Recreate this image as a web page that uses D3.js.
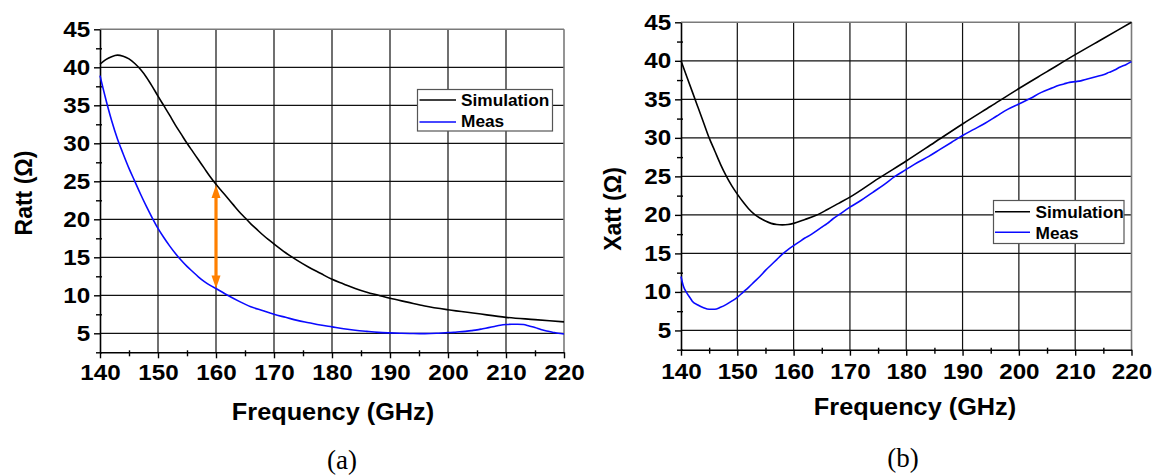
<!DOCTYPE html>
<html>
<head>
<meta charset="utf-8">
<script src="https://cdn.jsdelivr.net/npm/d3@7"></script>
<style>
  html, body { margin: 0; padding: 0; background: #fff; }
  svg { display: block; }
  text { font-family: "Liberation Sans", Arial, sans-serif; font-weight: bold; fill: #000; }
  text.cap { font-family: "Liberation Serif", "Times New Roman", serif; font-weight: normal; }
</style>
</head>
<body>
<svg id="chart" width="1155" height="476"></svg>
<script>
// ---------- data ----------
const xTicks = [140, 150, 160, 170, 180, 190, 200, 210, 220];
const xMinorTicks = [145, 155, 165, 175, 185, 195, 205, 215];
const yTicks = [5, 10, 15, 20, 25, 30, 35, 40, 45];
const yMinorTicks = [2.5, 7.5, 12.5, 17.5, 22.5, 27.5, 32.5, 37.5, 42.5];
const seriesNames = ["Simulation", "Meas"];
const xLabel = "Frequency (GHz)";
const yLabelA = "Ratt (Ω)";
const yLabelB = "Xatt (Ω)";
const captions = ["(a)", "(b)"];

// Panel (a): Ratt
const freqSimA = [140,141,142,143,144,145,146,147,148,149,150,151,152,153,154,155,156,157,158,159,160,161,162,163,164,165,166,167,168,169,170,172,174,176,178,180,182,184,186,188,190,193,196,200,205,210,215,220];
const rattSim  = [40.4,41.0,41.4,41.6,41.45,41.1,40.5,39.7,38.7,37.5,36.2,34.95,33.7,32.4,31.2,30.0,28.9,27.8,26.7,25.6,24.6,23.7,22.8,21.9,21.0,20.2,19.4,18.7,18.0,17.35,16.75,15.6,14.6,13.7,12.9,12.1,11.5,10.9,10.4,10.0,9.6,9.1,8.6,8.1,7.6,7.1,6.8,6.5];
const freqMeasA = [140,141,142,143,144,145,146,147,148,149,150,151,152,153,154,155,156,157,158,159,160,162,164,166,168,170,172,174,176,178,180,182,184,186,188,190,192,194,196,198,200,201,202,203,204,205,206,207,208,209,210,211,212,213,214,215,216,217,218,219,220];
const rattMeas  = [38.9,35.8,33.0,30.6,28.6,26.7,25.0,23.3,21.7,20.2,18.8,17.6,16.5,15.5,14.6,13.8,13.1,12.4,11.8,11.3,10.9,10.0,9.2,8.5,8.0,7.5,7.1,6.7,6.4,6.1,5.85,5.6,5.4,5.25,5.12,5.05,5.0,4.97,4.96,5.0,5.1,5.12,5.2,5.25,5.35,5.45,5.6,5.75,5.9,6.05,6.15,6.2,6.2,6.15,5.95,5.75,5.5,5.3,5.15,5.0,4.9];
// orange double arrow at 160 GHz
const arrowFreq = 160;
const arrowFrom = 24.5;
const arrowTo = 10.9;

// Panel (b): Xatt
const freqSimB = [140,141,142,143,144,145,146,147,148,149,150,151,152,153,154,155,156,157,158,159,160,162,164,166,168,170,175,180,185,190,195,200,205,210,215,220];
const xattSim  = [40.0,38.0,36.0,34.0,32.0,30.0,28.3,26.6,25.1,23.8,22.7,21.7,20.8,20.1,19.6,19.2,18.9,18.75,18.7,18.75,18.9,19.4,19.95,20.7,21.5,22.3,24.7,27.0,29.4,31.8,34.1,36.4,38.6,40.8,42.9,45.0];
const freqMeasB = [140,140.4,141,141.6,142,143,144,145,146,147,148,149,150,151,152,153,154,155,156,157,158,159,160,161,162,163,164,165,166,167,168,170,172,174,176,178,180,182,184,186,188,190,192,194,196,198,200,202,204,206,207,208,209,210,211,212,213,214,215,216,217,218,219,220];
const xattMeas  = [12.0,10.8,9.9,9.25,8.8,8.3,7.95,7.75,7.75,8.0,8.35,8.8,9.3,9.95,10.6,11.3,12.0,12.8,13.5,14.2,14.9,15.5,16.0,16.5,17.0,17.4,17.9,18.4,18.9,19.5,20.0,21.0,21.9,22.9,23.9,25.0,25.9,26.8,27.6,28.5,29.4,30.3,31.1,31.9,32.8,33.7,34.4,35.1,35.9,36.5,36.8,37.0,37.2,37.3,37.4,37.6,37.8,38.0,38.2,38.5,38.8,39.2,39.5,39.9];

// ---------- drawing ----------
const svg = d3.select("#chart");
const SX = 1.1; // horizontal text widening seen in the reference

const panels = [
  { x0: 100, x1: 564, yTop: 29.3, yBot: 352.3, pad: 6,
    sim: [freqSimA, rattSim], meas: [freqMeasA, rattMeas], ylabel: yLabelA,
    ylabX: 24, ylabY: 193, xlabX: 333, xlabY: 420, cap: captions[0], capX: 342, capY: 469,
    legend: { x: 417.5, y: 89.5, w: 135, h: 41.5, l0: 419.5, l1: 456, ySim: 100, yMeas: 122, tx: 461, bSim: 106, bMeas: 127 },
    arrow: true },
  { x0: 681, x1: 1131.5, yTop: 22.3, yBot: 349.7, pad: 8,
    sim: [freqSimB, xattSim], meas: [freqMeasB, xattMeas], ylabel: yLabelB,
    ylabX: 613, ylabY: 209, xlabX: 915, xlabY: 415, cap: captions[1], capX: 903, capY: 467,
    legend: { x: 993.5, y: 200.5, w: 130.5, h: 43, l0: 995, l1: 1030, ySim: 211.7, yMeas: 232.3, tx: 1035.5, bSim: 217.5, bMeas: 238.5 },
    arrow: false }
];

panels.forEach(p => {
  const x = d3.scaleLinear().domain([140, 220]).range([p.x0, p.x1]);
  const y = d3.scaleLinear().domain([2.5, 45]).range([p.yBot, p.yTop]);
  const g = svg.append("g");

  // grid
  g.append("g").selectAll("line").data(xTicks.slice(1, -1)).join("line")
    .attr("x1", d => x(d)).attr("x2", d => x(d)).attr("y1", p.yTop).attr("y2", p.yBot)
    .attr("stroke", "#111").attr("stroke-width", 1.2);
  g.append("g").selectAll("line").data(yTicks.slice(0, -1)).join("line")
    .attr("x1", p.x0).attr("x2", p.x1).attr("y1", d => y(d)).attr("y2", d => y(d))
    .attr("stroke", "#111").attr("stroke-width", 1.2);
  // top / right frame (gray)
  g.append("line").attr("x1", p.x0).attr("x2", p.x1).attr("y1", y(45)).attr("y2", y(45))
    .attr("stroke", "#7a7a7a").attr("stroke-width", 1.6);
  g.append("line").attr("x1", x(220)).attr("x2", x(220)).attr("y1", p.yTop).attr("y2", p.yBot)
    .attr("stroke", "#7a7a7a").attr("stroke-width", 1.6);

  // minor ticks
  g.append("g").attr("transform", `translate(0,${p.yBot})`)
    .call(d3.axisBottom(x).tickValues(xMinorTicks).tickSize(4).tickFormat(""))
    .call(s => s.select(".domain").remove())
    .call(s => s.selectAll("line").attr("stroke-width", 1.4).attr("y1", -2));
  g.append("g").attr("transform", `translate(${p.x0},0)`)
    .call(d3.axisLeft(y).tickValues(yMinorTicks).tickSize(4).tickFormat(""))
    .call(s => s.select(".domain").remove())
    .call(s => s.selectAll("line").attr("stroke-width", 1.4).attr("x1", 2));

  // major axes
  const ax = g.append("g").attr("transform", `translate(0,${p.yBot})`)
    .call(d3.axisBottom(x).tickValues(xTicks).tickSize(6).tickPadding(p.pad).tickSizeOuter(0));
  const ay = g.append("g").attr("transform", `translate(${p.x0},0)`)
    .call(d3.axisLeft(y).tickValues(yTicks).tickSize(6).tickPadding(3).tickSizeOuter(0));
  [ax, ay].forEach(a => {
    a.attr("font-family", null);
    a.select(".domain").attr("stroke", "#000").attr("stroke-width", 1.6);
    a.selectAll(".tick line").attr("stroke", "#000").attr("stroke-width", 1.4);
    a.selectAll(".tick text").attr("font-size", 22)
      .attr("transform", `scale(${SX},1)`);
  });

  // lines
  const line = d3.line().x(d => x(d[0])).y(d => y(d[1])).curve(d3.curveMonotoneX);
  const simPts = p.sim[0].map((f, i) => [f, p.sim[1][i]]);
  const measPts = p.meas[0].map((f, i) => [f, p.meas[1][i]]);
  g.append("path").datum(simPts).attr("d", line).attr("fill", "none")
    .attr("stroke", "#000").attr("stroke-width", 1.6);
  g.append("path").datum(measPts).attr("d", line).attr("fill", "none")
    .attr("stroke", "#0a0aff").attr("stroke-width", 1.6);

  // arrow
  if (p.arrow) {
    const ax0 = x(arrowFreq), yA = y(arrowFrom), yB = y(arrowTo);
    const hw = 4.5, hh = 13;
    g.append("line").attr("x1", ax0).attr("x2", ax0).attr("y1", yA + hh - 1).attr("y2", yB - hh + 1)
      .attr("stroke", "#ff8000").attr("stroke-width", 3.2);
    g.append("path").attr("d", `M${ax0},${yA} L${ax0 - hw},${yA + hh} L${ax0 + hw},${yA + hh} Z`).attr("fill", "#ff8000");
    g.append("path").attr("d", `M${ax0},${yB} L${ax0 - hw},${yB - hh} L${ax0 + hw},${yB - hh} Z`).attr("fill", "#ff8000");
  }

  // legend
  const L = p.legend;
  g.append("rect").attr("x", L.x).attr("y", L.y).attr("width", L.w).attr("height", L.h)
    .attr("fill", "#fff").attr("stroke", "#555").attr("stroke-width", 1.2);
  g.append("line").attr("x1", L.l0).attr("x2", L.l1).attr("y1", L.ySim).attr("y2", L.ySim)
    .attr("stroke", "#000").attr("stroke-width", 1.6);
  g.append("line").attr("x1", L.l0).attr("x2", L.l1).attr("y1", L.yMeas).attr("y2", L.yMeas)
    .attr("stroke", "#0a0aff").attr("stroke-width", 1.6);
  g.append("text").attr("transform", `translate(${L.tx},${L.bSim}) scale(1.08,1)`)
    .attr("font-size", 16).text(seriesNames[0]);
  g.append("text").attr("transform", `translate(${L.tx},${L.bMeas}) scale(1.08,1)`)
    .attr("font-size", 16).text(seriesNames[1]);

  // axis titles
  g.append("text").attr("transform", `translate(${p.xlabX},${p.xlabY}) scale(${SX},1)`)
    .attr("text-anchor", "middle").attr("font-size", 23).text(xLabel);
  g.append("text").attr("transform", `translate(${p.ylabX},${p.ylabY}) rotate(-90)`)
    .attr("text-anchor", "middle").attr("dy", "0.35em").attr("font-size", 23).text(p.ylabel);

  // caption
  g.append("text").attr("class", "cap").attr("x", p.capX).attr("y", p.capY)
    .attr("text-anchor", "middle").attr("font-size", 27).text(p.cap);
});
</script>
</body>
</html>
